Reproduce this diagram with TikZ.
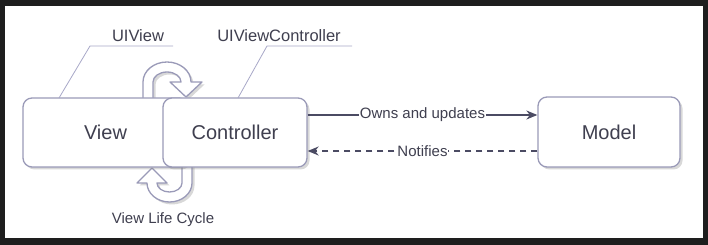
\documentclass[tikz,border=0pt]{standalone}
\usepackage{fontspec}
\setmainfont{Liberation Sans}
\usetikzlibrary{shadows,arrows.meta}
\definecolor{boxc}{HTML}{9A9AB8}
\definecolor{linec}{HTML}{4B4B63}
\definecolor{txt}{HTML}{3F3F4F}
\definecolor{callc}{HTML}{A8A8C8}
\definecolor{frame}{HTML}{1E1E1E}
\tikzset{
  box/.style={draw=boxc, line width=1.3pt, rounded corners=9pt, fill=white, minimum height=69pt,
    drop shadow={shadow xshift=2.5pt, shadow yshift=-2.5pt, opacity=0.3},
    font=\fontsize{20}{24}\selectfont, text=txt, inner sep=0pt},
  uturn/.style={draw=boxc, line width=1.3pt, fill=white, line join=round,
    drop shadow={shadow xshift=2.5pt, shadow yshift=-2.5pt, opacity=0.3}},
  lbl/.style={font=\fontsize{16.5}{20}\selectfont, text=txt, inner sep=1pt},
  elbl/.style={font=\fontsize{15}{18}\selectfont, text=txt, fill=white, inner sep=0.5pt},
  conn/.style={draw=linec, line width=1.4pt, -{Stealth[length=11pt,width=9pt]}},
  callout/.style={draw=callc, line width=0.8pt}
}
\begin{document}
\begin{tikzpicture}[x=1pt,y=-1pt]
\useasboundingbox (0,0) rectangle (708,245);
\fill[frame] (0,0) rectangle (708,245);
\fill[white] (5,6) rectangle (703,238);
% life cycle arrows
\path[uturn] (143,100) -- (143,82) arc[start angle=180, end angle=360, x radius=24, y radius=20]
  -- (202,82) -- (186,97) -- (170,82) -- (181,82)
  arc[start angle=0, end angle=-180, x radius=14, y radius=10] -- (153,100) -- cycle;
\path[uturn] (192,165) -- (192,183) arc[start angle=0, end angle=180, x radius=22.5, y radius=19]
  -- (137,183) -- (152,168) -- (167,183) -- (157,183)
  arc[start angle=180, end angle=0, x radius=12.5, y radius=9] -- (182,165) -- cycle;
% boxes
\node[box, minimum width=165pt] (view) at (105.5,132.5) {View};
\node[box, minimum width=144pt] (ctrl) at (235,132.5) {Controller};
\node[box, minimum width=142pt, minimum height=70pt] (model) at (609,132) {Model};
% callouts
\node[lbl] (uiview) at (138,36) {UIView};
\node[lbl] (uivc) at (279,36) {UIViewController};
\coordinate (uv1) at (173,46);
\coordinate (uv2) at (90,46);
\coordinate (uv3) at (59,98);
\coordinate (uc1) at (352,46);
\coordinate (uc2) at (267,46);
\coordinate (uc3) at (238,98);
\draw[callout] (uv1) -- (uv2) -- (uv3);
\draw[callout] (uc1) -- (uc2) -- (uc3);
\node[lbl, font=\fontsize{15}{18}\selectfont] (vlc) at (163,220) {View Life Cycle};
% connectors
\draw[conn] ([yshift=17.5pt]ctrl.east) -- node[elbl, pos=0.5] {Owns and updates} ([yshift=17.5pt]ctrl.east -| model.west);
\draw[conn, dash pattern=on 6pt off 5pt] ([yshift=-19pt]model.west) -- node[elbl, pos=0.5] {Notifies} ([yshift=-19pt]model.west -| ctrl.east);
\end{tikzpicture}
\end{document}
